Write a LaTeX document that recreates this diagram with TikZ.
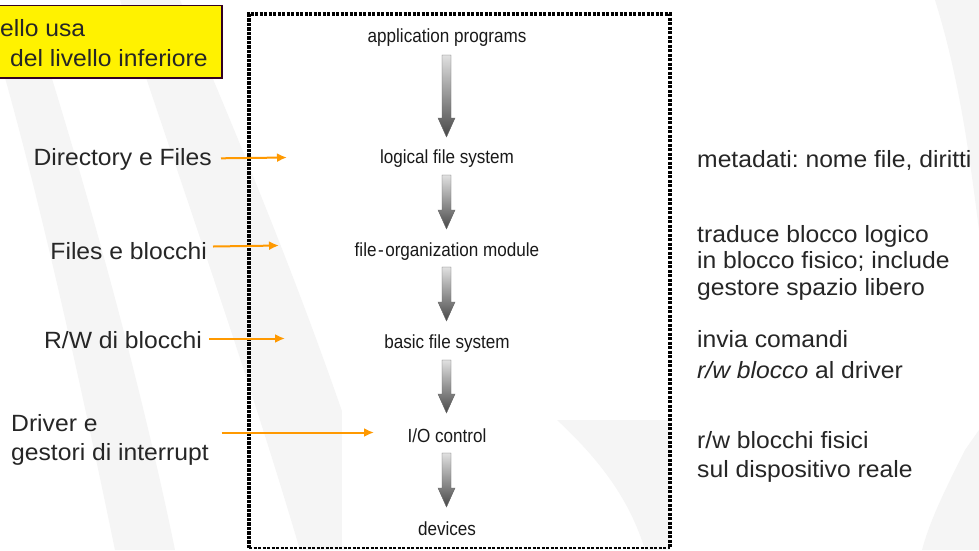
\documentclass[tikz,border=0pt]{standalone}
\usepackage{fontspec}
\setmainfont{Liberation Sans}
\newfontfamily\lblfont[FakeStretch=1.05]{Liberation Sans}
\newfontfamily\figfont[FakeStretch=0.9]{Liberation Sans}
\usetikzlibrary{arrows.meta,calc}
\frenchspacing
\definecolor{orarrow}{RGB}{255,153,0}
\definecolor{boxborder}{RGB}{51,0,34}
\definecolor{wmark}{RGB}{245,245,245}
\tikzset{
  lbl/.style={inner sep=0pt,font=\lblfont\fontsize{23.5}{28}\selectfont,text=black!85},
  fig/.style={inner sep=0pt,anchor=base,font=\figfont\fontsize{19}{22}\selectfont,text=black!90},
  oarrow/.style={draw=orarrow,line width=2pt,-{Latex[length=10pt,width=9pt]}},
  blockshade/.style={top color=black!12,bottom color=black!72,draw=black!60,line width=0.4pt},
}
\newcommand\blockarrow[2]{%
  \path let \p1=(#1), \p2=(#2) in
    [blockshade] (\x1-4.5pt,\y1) -- (\x1+4.5pt,\y1) -- (\x1+4.5pt,\y2+19pt)
    -- (\x1+8.5pt,\y2+19pt) -- (\x1,\y2) -- (\x1-8.5pt,\y2+19pt)
    -- (\x1-4.5pt,\y2+19pt) -- cycle;}
\begin{document}
\begin{tikzpicture}[x=1pt,y=-1pt]
\useasboundingbox (0,0) rectangle (979,550);
\fill[white] (0,0) rectangle (979,550);
% faint watermark bands
\fill[wmark] (0,60) .. controls (40,200) and (80,380) .. (115,550) -- (175,550)
  .. controls (140,380) and (90,200) .. (40,40) -- (0,40) -- cycle;
\fill[wmark] (120,0) .. controls (180,180) and (250,380) .. (300,550) -- (345,550)
  -- (345,420) .. controls (290,260) and (230,120) .. (180,0) -- cycle;
\fill[wmark] (557,420) .. controls (600,460) and (630,500) .. (645,550) -- (670,550) -- (670,420) -- cycle;
\fill[wmark] (935,0) .. controls (960,80) and (970,160) .. (979,230) -- (979,0) -- cycle;
\fill[wmark] (965,450) .. controls (945,490) and (930,520) .. (922,550) -- (979,550) -- (979,430) -- cycle;
% white figure area
\fill[white] (342,17) rectangle (557,546);

% dotted frame
\draw[line width=4pt,dash pattern=on 3.2pt off 1.3pt] (249,548) -- (249,14) -- (670,14) -- (670,548);
\draw[line width=1.2pt,dash pattern=on 3pt off 1.5pt] (249,548) -- (670,548);

% yellow box
\draw[fill=yellow,draw=boxborder,line width=1.5pt] (-5,5.5) rectangle (222,78);
\node[lbl,anchor=base west] (y1) at (0,36) {ello usa};
\node[lbl,anchor=base west] (y2) at (10,66) {del livello inferiore};

% inner layers
\node[fig] (app) at (447,42.5) {application programs};
\node[fig] (lfs) at (447,163) {logical file system};
\node[fig] (fom) at (447,256) {file\kern1.5pt-\kern1.5pt organization module};
\node[fig] (bfs) at (447,348.5) {basic file system};
\node[fig] (ioc) at (447,442.5) {I/O control};
\node[fig] (dev) at (447,535) {devices};

\coordinate (a1s) at (446.5,55);  \coordinate (a1t) at (446.5,137);
\coordinate (a2s) at (446.5,175); \coordinate (a2t) at (446.5,229);
\coordinate (a3s) at (446.5,267); \coordinate (a3t) at (446.5,321);
\coordinate (a4s) at (446.5,360); \coordinate (a4t) at (446.5,413);
\coordinate (a5s) at (446.5,453); \coordinate (a5t) at (446.5,507);
\blockarrow{a1s}{a1t}
\blockarrow{a2s}{a2t}
\blockarrow{a3s}{a3t}
\blockarrow{a4s}{a4t}
\blockarrow{a5s}{a5t}

% left labels
\node[lbl,anchor=base east] (dir) at (212,165) {Directory e Files};
\node[lbl,anchor=base east] (fb) at (207,259) {Files e blocchi};
\node[lbl,anchor=base east] (rw) at (202,348) {R/W di blocchi};
\node[lbl,anchor=base west] (drv1) at (11,431) {Driver e};
\node[lbl,anchor=base west] (drv2) at (11,460) {gestori di interrupt};

\coordinate (s1) at (221,158.3); \coordinate (t1) at (287,157.5);
\coordinate (s2) at (213,246.5); \coordinate (t2) at (279,245.5);
\coordinate (s3) at (209,338.5); \coordinate (t3) at (285,338.5);
\coordinate (s4) at (221.5,432.5); \coordinate (t4) at (374,432.5);
\draw[oarrow] (s1) -- (t1);
\draw[oarrow] (s2) -- (t2);
\draw[oarrow] (s3) -- (t3);
\draw[oarrow] (s4) -- (t4);

% right labels
\node[lbl,anchor=base west] (r1) at (697,167) {metadati: nome file, diritti};
\node[lbl,anchor=base west] (r2a) at (697,242) {traduce blocco logico};
\node[lbl,anchor=base west] (r2b) at (697,268.5) {in blocco fisico; include};
\node[lbl,anchor=base west] (r2c) at (697,295) {gestore spazio libero};
\node[lbl,anchor=base west] (r3a) at (697,347) {invia comandi};
\node[lbl,anchor=base west] (r3b) at (697,378) {\itshape r/w blocco\upshape{} al driver};
\node[lbl,anchor=base west] (r4a) at (697,448) {r/w blocchi fisici};
\node[lbl,anchor=base west] (r4b) at (697,477) {sul dispositivo reale};
\end{tikzpicture}
\end{document}
